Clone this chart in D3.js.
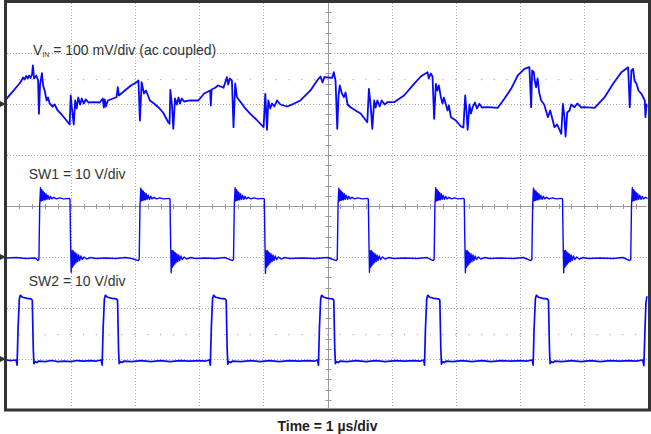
<!DOCTYPE html>
<html><head><meta charset="utf-8">
<script src="https://cdn.jsdelivr.net/npm/d3@7"></script>
<style>html,body{margin:0;padding:0;background:#fff;} svg{display:block;}</style>
</head><body>
<svg id="c" width="651" height="434"></svg>
<script>
// ---------- DATA ----------
// time in µs (1 µs/div, 10 divisions)
const timeDivisions = [0,1,2,3,4,5,6,7,8,9,10];
const voltDivisions = [-4,-3,-2,-1,0,1,2,3,4];

// Channel labels
const labelVin = ["V", "IN", " = 100 mV/div (ac coupled)"];
const labelSw1 = "SW1 = 10 V/div";
const labelSw2 = "SW2 = 10 V/div";
const labelTime = "Time = 1 µs/div";

// VIN (ac coupled) : [time µs, mV]
const vinData = [
[0,10.2],[0.203,40.2],[0.234,46.1],[0.258,52],[0.281,48],[0.305,54.9],[0.328,50],[0.352,55.9],[0.375,51],[0.398,57.8],
[0.411,75.5],[0.43,50],[0.464,55.9],[0.492,46],[0.505,-19.2],[0.523,38],[0.552,60.4],[0.570,36.3],[0.594,26.5],
[0.625,6.9],[0.648,12.7],[0.672,1.0],[0.719,-4.9],[0.75,-1],[0.797,-12.7],[0.859,-20.6],[0.922,-30.4],[0.984,-40.2],
[1.0,16.7],[1.023,-12.7],[1.047,-40.2],[1.07,6.9],[1.094,-8.8],[1.117,12.7],[1.148,-1],[1.172,10.8],[1.203,1],
[1.234,8.8],[1.281,2.9],[1.344,3.5],[1.453,2.9],[1.5,10.8],[1.516,-6.9],[1.531,8.8],[1.547,-4.9],[1.578,6.9],
[1.641,9.8],[1.714,13.3],[1.734,32.9],[1.75,16.7],[1.844,26.5],[1.938,36.3],[2.027,42.7],[2.055,46.1],[2.078,-32.4],
[2.105,42.7],[2.141,20.6],[2.172,26.4],[2.234,6.9],[2.297,1],[2.364,-6.3],[2.438,-16.7],[2.52,-35.7],[2.54,-38.8],[2.552,27.8],[2.578,-2.9],
[2.598,-48.6],[2.625,10.8],[2.652,-1],[2.68,12.7],[2.703,1],[2.73,10.8],[2.766,4.9],[2.859,6.9],[2.989,6.9],
[3.078,20.6],[3.172,26.5],[3.183,-2.9],[3.195,28.4],[3.25,31.8],[3.297,36.3],[3.380,31.8],[3.433,52.5],[3.453,38.2],
[3.477,50],[3.511,46.1],[3.536,-45.5],[3.5625,40.2],[3.589,13.3],[3.667,0.4],[3.719,-8.8],[3.797,-19.2],[3.891,-30.4],
[4.005,-45.5],[4.031,20],[4.058,-50.6],[4.078,6.9],[4.109,-8.8],[4.136,1],[4.172,-4.9],[4.214,6.9],[4.266,-1],
[4.370,-4.9],[4.473,0.4],[4.578,6.9],[4.656,16.7],[4.734,26.5],[4.839,46.1],[4.891,53.9],[4.922,42.2],[4.953,52.9],
[5.016,52],[5.073,51.4],[5.098,62.4],[5.125,46.1],[5.152,-48.6],[5.172,16.7],[5.192,36.3],[5.219,22.5],[5.255,13.3],
[5.281,22.5],[5.313,-1],[5.359,-6.3],[5.438,-12.7],[5.516,-18.6],[5.563,-26.5],[5.620,-35.7],[5.645,29.8],[5.672,-2.9],
[5.698,-48.6],[5.727,6.9],[5.75,-6.9],[5.777,6.9],[5.813,-4.9],[5.844,6.9],[5.891,-1],[5.933,3.5],[6.036,3.5],
[6.192,16.7],[6.348,39.6],[6.453,53.9],[6.5,57.8],[6.558,62.4],[6.578,50],[6.609,59.8],[6.636,53.9],[6.661,-29],
[6.688,39.6],[6.711,26.5],[6.734,36.3],[6.766,13.3],[6.792,1],[6.813,12.7],[6.870,-12.7],[6.891,-2.9],[6.922,-25.9],
[7.0,-32.4],[7.078,-44.1],[7.117,-46.1],[7.145,16.7],[7.164,-12.7],[7.183,-50.6],[7.211,-1],[7.234,-18.6],[7.261,-6.3],
[7.297,2.9],[7.328,-8.8],[7.364,0.4],[7.406,-6.9],[7.495,-6.3],[7.652,-7.5],[7.755,10.2],[7.859,29.8],[7.964,55.9],
[8.067,69.0],[8.145,72.2],[8.172,-6.3],[8.188,65.7],[8.214,62.4],[8.227,46.1],[8.25,32.9],[8.273,50],[8.297,22.5],
[8.328,6.9],[8.375,-1],[8.433,-25.9],[8.469,-12.7],[8.536,-45.5],[8.578,-40.2],[8.641,-58.4],[8.667,0.4],[8.688,-22.5],
[8.708,-63.7],[8.734,-16.7],[8.770,-12.7],[8.797,-1],[8.848,-6.3],[8.891,1],[8.953,-6.9],[9.005,-6.3],[9.161,-7.5],
[9.317,13.3],[9.448,39.6],[9.578,62.4],[9.683,72.2],[9.708,-6.3],[9.734,65.7],[9.761,69],[9.781,46.1],[9.813,39.6],
[9.844,26.5],[9.891,20],[9.942,6.9],[9.953,-25.9],[9.969,-1],[10.0,-6.3]
];

// SW1 : [time µs, V]
const sw1Data = [
[0,-0.2],[0.15,-0.1],[0.3,-0.3],[0.45,-0.2],
[0.49,-0.7],[0.505,-0.5],[0.517,10.0],[0.530,13.6],[0.540,11.0],[0.550,13.2],[0.560,11.1],[0.570,12.9],[0.580,11.2],[0.590,12.6],[0.602,11.2],[0.615,12.4],[0.630,11.3],[0.645,12.1],[0.665,11.3],[0.685,11.9],[0.705,11.4],[0.735,11.7],[0.775,11.4],[0.825,11.6],[0.889,11.4],[0.979,11.5],[0.989,11.3],
[0.997,4.0],[1.007,-3.0],[1.016,1.2],[1.025,-2.0],[1.034,1.3],[1.043,-1.7],[1.052,1.0],[1.062,-1.4],[1.072,0.8],[1.083,-1.1],[1.095,0.6],[1.109,-0.9],[1.124,0.4],[1.139,-0.7],[1.159,0.2],[1.179,-0.5],[1.209,0.0],[1.249,-0.4],[1.309,-0.1],[1.389,-0.3],[1.55,-0.2],[1.7,-0.3],[1.85,-0.1],[1.95,-0.3],[2.05,-0.7],
[2.067,-0.5],[2.079,10.0],[2.092,13.5],[2.102,11.0],[2.112,13.1],[2.122,11.1],[2.132,12.9],[2.142,11.2],[2.152,12.6],[2.164,11.2],[2.177,12.4],[2.192,11.3],[2.207,12.1],[2.227,11.3],[2.247,11.9],[2.267,11.4],[2.297,11.7],[2.337,11.4],[2.387,11.6],[2.447,11.4],[2.537,11.5],[2.547,11.3],
[2.555,4.0],[2.565,-3.1],[2.574,1.2],[2.583,-2.0],[2.592,1.3],[2.601,-1.7],[2.610,1.0],[2.620,-1.4],[2.630,0.8],[2.641,-1.1],[2.653,0.6],[2.667,-0.9],[2.682,0.4],[2.697,-0.7],[2.717,0.2],[2.737,-0.5],[2.767,0.0],[2.807,-0.4],[2.867,-0.1],[2.947,-0.3],[3.1,-0.2],[3.25,-0.3],[3.4,-0.1],[3.52,-0.7],
[3.536,-0.5],[3.548,10.0],[3.561,13.6],[3.571,11.0],[3.581,13.2],[3.591,11.1],[3.601,12.9],[3.611,11.2],[3.621,12.6],[3.633,11.2],[3.646,12.4],[3.661,11.3],[3.676,12.1],[3.696,11.3],[3.716,11.9],[3.736,11.4],[3.766,11.7],[3.806,11.4],[3.856,11.6],[3.916,11.4],[4.006,11.5],[4.016,11.3],
[4.024,4.0],[4.034,-3.2],[4.043,1.2],[4.052,-2.0],[4.061,1.3],[4.070,-1.7],[4.079,1.0],[4.089,-1.4],[4.099,0.8],[4.110,-1.1],[4.122,0.6],[4.136,-0.9],[4.151,0.4],[4.166,-0.7],[4.186,0.2],[4.206,-0.5],[4.236,0.0],[4.276,-0.4],[4.336,-0.1],[4.416,-0.3],[4.6,-0.2],[4.8,-0.3],[5.0,-0.1],[5.137,-0.7],
[5.152,-0.5],[5.164,10.0],[5.177,13.5],[5.187,11.0],[5.197,13.1],[5.207,11.1],[5.217,12.9],[5.227,11.2],[5.237,12.6],[5.249,11.2],[5.262,12.4],[5.277,11.3],[5.292,12.1],[5.312,11.3],[5.332,11.9],[5.352,11.4],[5.382,11.7],[5.422,11.4],[5.472,11.6],[5.536,11.4],[5.626,11.5],[5.636,11.3],
[5.644,4.0],[5.654,-3.0],[5.663,1.2],[5.672,-2.0],[5.681,1.3],[5.690,-1.7],[5.699,1.0],[5.709,-1.4],[5.719,0.8],[5.730,-1.1],[5.742,0.6],[5.756,-0.9],[5.771,0.4],[5.786,-0.7],[5.806,0.2],[5.826,-0.5],[5.856,0.0],[5.896,-0.4],[5.956,-0.1],[6.036,-0.3],[6.2,-0.2],[6.4,-0.3],[6.55,-0.1],[6.646,-0.7],
[6.661,-0.5],[6.673,10.0],[6.686,13.6],[6.696,11.0],[6.706,13.2],[6.716,11.1],[6.726,12.9],[6.736,11.2],[6.746,12.6],[6.758,11.2],[6.771,12.4],[6.786,11.3],[6.801,12.1],[6.821,11.3],[6.841,11.9],[6.861,11.4],[6.891,11.7],[6.931,11.4],[6.981,11.6],[7.03,11.4],[7.12,11.5],[7.13,11.3],
[7.138,4.0],[7.148,-3.1],[7.157,1.2],[7.166,-2.0],[7.175,1.3],[7.184,-1.7],[7.193,1.0],[7.203,-1.4],[7.213,0.8],[7.224,-1.1],[7.236,0.6],[7.250,-0.9],[7.265,0.4],[7.280,-0.7],[7.300,0.2],[7.320,-0.5],[7.350,0.0],[7.390,-0.4],[7.450,-0.1],[7.530,-0.3],[7.7,-0.2],[7.9,-0.3],[8.05,-0.1],[8.168,-0.7],
[8.183,-0.5],[8.195,10.0],[8.208,13.5],[8.218,11.0],[8.228,13.1],[8.238,11.1],[8.248,12.9],[8.258,11.2],[8.268,12.6],[8.280,11.2],[8.293,12.4],[8.308,11.3],[8.323,12.1],[8.343,11.3],[8.363,11.9],[8.383,11.4],[8.413,11.7],[8.453,11.4],[8.503,11.6],[8.561,11.4],[8.651,11.5],[8.661,11.3],
[8.669,4.0],[8.679,-3.1],[8.688,1.2],[8.697,-2.0],[8.706,1.3],[8.715,-1.7],[8.724,1.0],[8.734,-1.4],[8.744,0.8],[8.755,-1.1],[8.767,0.6],[8.781,-0.9],[8.796,0.4],[8.811,-0.7],[8.831,0.2],[8.851,-0.5],[8.881,0.0],[8.921,-0.4],[8.981,-0.1],[9.061,-0.3],[9.25,-0.2],[9.45,-0.3],[9.6,-0.1],[9.708,-0.7],
[9.723,-0.5],[9.735,10.0],[9.748,13.6],[9.758,11.0],[9.768,13.2],[9.778,11.1],[9.788,12.9],[9.798,11.2],[9.808,12.6],[9.820,11.2],[9.833,12.4],[9.848,11.3],[9.863,12.1],[9.883,11.3],[9.903,11.9],[9.923,11.4],[9.953,11.7],[10.0,11.4]
];

// SW2 : [time µs, V]
const sw2Data = [
[0,-0.2],[0.08,-0.3],[0.15,-0.2],[0.165,-1.2],[0.18,6.0],[0.20,11.8],[0.215,12.5],[0.25,12.1],[0.32,11.9],[0.382,11.8],[0.402,11.5],[0.417,2.0],[0.427,-0.9],[0.442,-0.5],[0.472,-0.7],[0.502,-0.4],[0.6,-0.5],[0.7,-0.3],[0.8,-0.5],[0.9,-0.4],[1.0,-0.5],[1.1,-0.3],[1.2,-0.4],[1.3,-0.3],[1.4,-0.4],[1.475,-0.2],
[1.49,-1.2],[1.505,6.0],[1.525,11.8],[1.54,12.5],[1.575,12.1],[1.645,11.9],[1.71,11.8],[1.73,11.5],[1.745,2.0],[1.755,-0.9],[1.77,-0.5],[1.80,-0.7],[1.83,-0.4],[1.95,-0.5],[2.1,-0.3],[2.25,-0.5],[2.4,-0.3],[2.55,-0.5],[2.7,-0.3],[2.85,-0.4],[3.0,-0.3],[3.1,-0.4],[3.16,-0.2],
[3.175,-1.2],[3.19,6.0],[3.21,11.8],[3.225,12.5],[3.26,12.1],[3.33,11.9],[3.402,11.8],[3.422,11.5],[3.437,2.0],[3.447,-1.0],[3.462,-0.5],[3.492,-0.7],[3.522,-0.4],[3.65,-0.5],[3.8,-0.3],[3.95,-0.5],[4.1,-0.3],[4.25,-0.5],[4.4,-0.3],[4.55,-0.4],[4.7,-0.3],[4.8,-0.4],[4.845,-0.2],
[4.859,-1.2],[4.874,6.0],[4.894,11.8],[4.909,12.5],[4.944,12.1],[5.01,11.9],[5.078,11.8],[5.098,11.5],[5.113,2.0],[5.123,-0.9],[5.138,-0.5],[5.168,-0.7],[5.198,-0.4],[5.3,-0.5],[5.45,-0.3],[5.6,-0.5],[5.75,-0.3],[5.9,-0.5],[6.05,-0.3],[6.2,-0.4],[6.35,-0.3],[6.45,-0.4],[6.5,-0.2],
[6.511,-1.2],[6.526,6.0],[6.546,11.8],[6.561,12.5],[6.596,12.1],[6.66,11.9],[6.73,11.8],[6.75,11.5],[6.765,2.0],[6.775,-1.0],[6.79,-0.5],[6.82,-0.7],[6.85,-0.4],[6.95,-0.5],[7.1,-0.3],[7.25,-0.5],[7.4,-0.3],[7.55,-0.5],[7.7,-0.3],[7.85,-0.4],[8.0,-0.3],[8.1,-0.4],[8.19,-0.2],
[8.203,-1.2],[8.218,6.0],[8.238,11.8],[8.253,12.5],[8.288,12.1],[8.35,11.9],[8.422,11.8],[8.442,11.5],[8.457,2.0],[8.467,-0.9],[8.482,-0.5],[8.512,-0.7],[8.542,-0.4],[8.65,-0.5],[8.8,-0.3],[8.95,-0.5],[9.1,-0.3],[9.25,-0.5],[9.4,-0.3],[9.55,-0.4],[9.7,-0.3],[9.8,-0.4],[9.91,-0.2],
[9.928,-1.3],[9.943,5.0],[9.96,11.0],[9.975,12.2],[10.0,12.0]
];

// channel settings: units per division and ground offset (divisions from centre)
const channelNames = ["VIN", "SW1", "SW2"];
const channelPerDiv = [100, 10, 10];
const channelOffset = [2, -1, -3];

// ---------- DRAW ----------
const svg = d3.select("#c");
const x = d3.scaleLinear().domain([0, 10]).range([6.5, 648.5]);
const y = d3.scaleLinear().domain([4, -4]).range([2, 410]);

const gridCol = "#a8a8a8";
const g = svg.append("g");

// dotted grid lines
timeDivisions.filter(d => d > 0 && d < 10 && d !== 5).forEach(d => {
  g.append("line").attr("x1", Math.round(x(d)) + 0.5).attr("x2", Math.round(x(d)) + 0.5)
    .attr("y1", 3).attr("y2", 408).attr("stroke", gridCol).attr("stroke-width", 1)
    .attr("stroke-dasharray", "1,2");
});
voltDivisions.filter(d => d > -4 && d < 4 && d !== 0).forEach(d => {
  g.append("line").attr("y1", Math.round(y(d)) + 0.5).attr("y2", Math.round(y(d)) + 0.5)
    .attr("x1", 7).attr("x2", 647).attr("stroke", gridCol).attr("stroke-width", 1)
    .attr("stroke-dasharray", "1,2");
});
// rows of sub-division dots
[2.5, -2.5].forEach(r => {
  d3.range(1, 50).forEach(k => {
    g.append("rect").attr("x", x(k * 0.2) - 0.6).attr("y", Math.round(y(r)))
      .attr("width", 1.2).attr("height", 1.2).attr("fill", "#b0b0b0");
  });
});
// centre cross (solid) with minor ticks
const cx = Math.round(x(5)) + 0.5, cy = Math.round(y(0)) + 0.5;
g.append("line").attr("x1", cx).attr("x2", cx).attr("y1", 3).attr("y2", 408)
  .attr("stroke", "#999").attr("stroke-width", 1);
g.append("line").attr("y1", cy).attr("y2", cy).attr("x1", 7).attr("x2", 647)
  .attr("stroke", "#999").attr("stroke-width", 1);
d3.range(1, 50).forEach(k => {
  const xx = Math.round(x(k * 0.2)) + 0.5;
  g.append("line").attr("x1", xx).attr("x2", xx).attr("y1", cy - 2.5).attr("y2", cy + 2.5)
    .attr("stroke", "#999").attr("stroke-width", 1);
});
d3.range(1, 40).forEach(k => {
  const yy = Math.round(y(-4 + k * 0.2)) + 0.5;
  g.append("line").attr("y1", yy).attr("y2", yy).attr("x1", cx - 3).attr("x2", cx + 3)
    .attr("stroke", "#999").attr("stroke-width", 1);
});

// traces
svg.append("clipPath").attr("id", "clip").append("rect")
  .attr("x", 7).attr("y", 3).attr("width", 640.5).attr("height", 405.5);
const traces = svg.append("g").attr("clip-path", "url(#clip)");
const datasets = [vinData, sw1Data, sw2Data];
const widths = [1.8, 1.4, 1.7];
datasets.forEach((data, i) => {
  const line = d3.line()
    .x(d => x(d[0]))
    .y(d => y(channelOffset[i] + d[1] / channelPerDiv[i]));
  traces.append("path").attr("d", line(data)).attr("fill", "none")
    .attr("stroke", "#0808ff").attr("stroke-width", widths[i])
    .attr("stroke-linejoin", "round");
});

// frame
svg.append("rect").attr("x", 5.5).attr("y", 1.5).attr("width", 644).attr("height", 408.5)
  .attr("fill", "none").attr("stroke", "#333").attr("stroke-width", 3);

// ground markers
channelOffset.forEach(o => {
  const yy = y(o);
  svg.append("path").attr("d", `M0,${yy - 3}L6,${yy}L0,${yy + 3}Z`).attr("fill", "#333");
});

// labels
const font = "'Liberation Sans', Arial, sans-serif";
const t1 = svg.append("text").attr("x", 33).attr("y", 55).attr("font-family", font)
  .attr("font-size", 14).attr("fill", "#333");
t1.append("tspan").text(labelVin[0]);
t1.append("tspan").attr("font-size", 7).attr("dy", 2).text(labelVin[1]);
t1.append("tspan").attr("dy", -2).text(labelVin[2]);
svg.append("text").attr("x", 28.7).attr("y", 179.3).attr("font-family", font)
  .attr("font-size", 14).attr("fill", "#333").text(labelSw1);
svg.append("text").attr("x", 28.7).attr("y", 286).attr("font-family", font)
  .attr("font-size", 14).attr("fill", "#333").text(labelSw2);
svg.append("text").attr("x", 327.5).attr("y", 431).attr("text-anchor", "middle")
  .attr("font-family", font).attr("font-size", 14).attr("font-weight", "bold")
  .attr("fill", "#222").text(labelTime);
</script>
</body></html>
